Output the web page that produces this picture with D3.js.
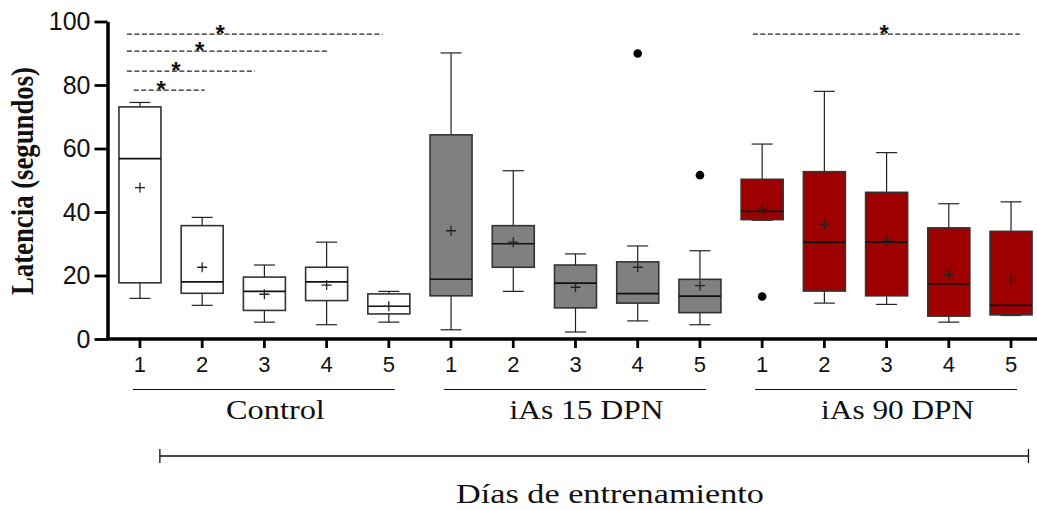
<!DOCTYPE html>
<meta charset="utf-8">
<head>
    <script src="https://cdn.jsdelivr.net/npm/d3@7"></script>
    <style>
        body { margin: 0; background: #fff; }
        .axis text { font-family: "Liberation Sans", Arial, sans-serif; fill: #111; }
        .serif { font-family: "Liberation Serif", "Times New Roman", Times, serif; fill: #111; }
        .star { font-family: "Liberation Sans", Arial, sans-serif; font-weight: bold; fill: #111; }
    </style>
    <title>Latencia</title>
</head>
<body>
<div id="chart"></div>
<script>
    // groups and days
    var groups = ["Control", "iAs 15 DPN", "iAs 90 DPN"];
    var days = ["1", "2", "3", "4", "5"];
    var groupColors = ["#ffffff", "#808080", "#9e0000"];

    // box stats, 15 boxes in group order (Control 1-5, iAs15 1-5, iAs90 1-5)
    var whiskerLow  = [12.8, 10.6, 5.3, 4.5, 5.3,   2.9, 15.0, 2.2, 5.7, 4.5,   37.4, 11.3, 10.9, 5.3, 7.4];
    var q1          = [17.7, 14.4, 9.0, 12.1, 7.9,  13.6, 22.6, 9.8, 11.3, 8.3, 37.6, 15.1, 13.6, 7.2, 7.6];
    var median      = [56.8, 18.0, 15.0, 18.0, 10.3, 18.8, 30.0, 17.6, 14.3, 13.5, 40.2, 30.5, 30.5, 17.3, 10.6];
    var q3          = [73.1, 35.7, 19.5, 22.6, 14.2, 64.3, 35.7, 23.3, 24.3, 18.8, 50.3, 52.7, 46.2, 35.0, 33.9];
    var whiskerHigh = [74.5, 38.3, 23.3, 30.5, 15.0, 90.1, 53.0, 26.8, 29.3, 27.8, 61.4, 78.0, 58.7, 42.6, 43.2];
    var mean        = [47.7, 22.6, 14.1, 17.0, 10.3, 34.1, 30.5, 16.3, 22.6, 16.8, 40.8, 36.2, 31.2, 20.3, 18.8];

    // outliers: box index, value
    var outlierBox = [8, 9, 10];
    var outlierVal = [89.9, 51.6, 13.4];

    // significance bars (box index units) and level in seconds
    var sigStart = [-0.21, -0.21, -0.21, -0.1, 9.85];
    var sigEnd   = [3.9, 3.04, 1.85, 1.04, 14.14];
    var sigLevel = [96.0, 90.7, 84.4, 78.4, 96.0];
    var sigStar  = [1.29, 0.96, 0.58, 0.34, 11.96];

    var yTicks = [0, 20, 40, 60, 80, 100];

    var w = 1037, h = 510;

    var svg = d3.select("#chart").append("svg")
        .attr("width", w)
        .attr("height", h);

    var keys = [];
    groups.forEach((g, gi) => days.forEach(d => keys.push(gi + "|" + d)));

    var x = d3.scaleBand()
        .domain(keys)
        .range([109, 1042])
        .paddingInner(0.325)
        .paddingOuter(0.16);

    var y = d3.scaleLinear().domain([0, 100]).range([339, 21.5]);

    var bw = x.bandwidth();
    // center of box i (allows fractional i)
    function xi(i) { return x(keys[0]) + bw / 2 + i * x.step(); }

    var boxes = keys.map((k, i) => ({
        key: k, group: +k.split("|")[0],
        lo: whiskerLow[i], q1: q1[i], med: median[i], q3: q3[i], hi: whiskerHigh[i], mean: mean[i]
    }));

    // significance bars
    var sig = svg.append("g");
    sigLevel.forEach((lv, i) => {
        sig.append("line")
            .attr("x1", xi(sigStart[i])).attr("x2", xi(sigEnd[i]))
            .attr("y1", y(lv)).attr("y2", y(lv))
            .attr("stroke", "#222").attr("stroke-width", 1.3)
            .attr("stroke-dasharray", "5,2.5");
        sig.append("text")
            .attr("class", "star")
            .attr("x", xi(sigStar[i])).attr("y", y(lv) + 8)
            .attr("text-anchor", "middle")
            .attr("font-size", 24)
            .text("*");
    });

    // boxes
    var bx = svg.append("g").selectAll("g").data(boxes).enter().append("g")
        .attr("transform", d => "translate(" + x(d.key) + ",0)");

    bx.append("line")
        .attr("x1", bw / 2).attr("x2", bw / 2)
        .attr("y1", d => y(d.hi)).attr("y2", d => y(d.q3))
        .attr("stroke", "#222").attr("stroke-width", 1.2);
    bx.append("line")
        .attr("x1", bw / 2).attr("x2", bw / 2)
        .attr("y1", d => y(d.q1)).attr("y2", d => y(d.lo))
        .attr("stroke", "#222").attr("stroke-width", 1.2);
    bx.selectAll(".cap").data(d => [d.hi, d.lo]).enter().append("line")
        .attr("x1", bw / 4).attr("x2", bw * 3 / 4)
        .attr("y1", v => y(v)).attr("y2", v => y(v))
        .attr("stroke", "#222").attr("stroke-width", 1.2);

    bx.append("rect")
        .attr("x", 0).attr("width", bw)
        .attr("y", d => y(d.q3))
        .attr("height", d => y(d.q1) - y(d.q3))
        .attr("fill", d => groupColors[d.group])
        .attr("stroke", "#333").attr("stroke-width", 1.6);

    bx.append("line")
        .attr("x1", 0).attr("x2", bw)
        .attr("y1", d => y(d.med)).attr("y2", d => y(d.med))
        .attr("stroke", "#111").attr("stroke-width", 1.6);

    // mean markers (+)
    bx.append("path")
        .attr("d", d => "M" + (bw / 2 - 5) + "," + y(d.mean) + "h10M" + (bw / 2) + "," + (y(d.mean) - 5) + "v10")
        .attr("stroke", "#222").attr("stroke-width", 1.3).attr("fill", "none");

    // outliers
    svg.append("g").selectAll("circle").data(outlierBox).enter().append("circle")
        .attr("cx", b => xi(b))
        .attr("cy", (b, i) => y(outlierVal[i]))
        .attr("r", 4.3)
        .attr("fill", "#000");

    // y axis
    var yAxis = d3.axisLeft(y).tickValues(yTicks).tickSize(13).tickSizeOuter(0).tickPadding(4);
    var ga = svg.append("g").attr("class", "axis").attr("transform", "translate(107.5,0)").call(yAxis);
    ga.select(".domain").attr("stroke", "#000").attr("stroke-width", 3.5);
    ga.selectAll(".tick line").attr("stroke", "#000").attr("stroke-width", 2.8);
    ga.selectAll(".tick text").attr("font-size", 25);

    // x axis
    var xAxis = d3.axisBottom(x).tickSize(9).tickSizeOuter(0).tickPadding(8.5)
        .tickFormat(k => k.split("|")[1]);
    var gx = svg.append("g").attr("class", "axis").attr("transform", "translate(0,339)").call(xAxis);
    gx.select(".domain").remove();
    gx.selectAll(".tick line").attr("stroke", "#000").attr("stroke-width", 2.8);
    gx.selectAll(".tick text").attr("font-size", 22);
    gx.append("line")
        .attr("x1", 106).attr("x2", w)
        .attr("y1", 0).attr("y2", 0)
        .attr("stroke", "#000").attr("stroke-width", 3.5);

    // y label
    svg.append("text")
        .attr("class", "serif")
        .attr("transform", "translate(33,181) rotate(-90)")
        .attr("text-anchor", "middle")
        .attr("font-size", 31)
        .attr("font-weight", "bold")
        .attr("textLength", 228)
        .attr("lengthAdjust", "spacingAndGlyphs")
        .text("Latencia (segundos)");

    // group underlines and labels
    var labelWidth = [99, 154, 153];
    groups.forEach((g, gi) => {
        var a = xi(gi * 5) - 7, b = xi(gi * 5 + 4) + 6;
        svg.append("line")
            .attr("x1", a).attr("x2", b)
            .attr("y1", 389.5).attr("y2", 389.5)
            .attr("stroke", "#111").attr("stroke-width", 1.2);
        svg.append("text")
            .attr("class", "serif")
            .attr("x", xi(gi * 5 + 2) + 11).attr("y", 419)
            .attr("text-anchor", "middle")
            .attr("font-size", 27)
            .attr("textLength", labelWidth[gi])
            .attr("lengthAdjust", "spacingAndGlyphs")
            .text(g);
    });

    // bracket for training days
    var bl = xi(0.32), br = xi(14.28);
    var brG = svg.append("g").attr("stroke", "#111").attr("stroke-width", 1.3);
    brG.append("line").attr("x1", bl).attr("x2", br).attr("y1", 456).attr("y2", 456);
    brG.append("line").attr("x1", bl).attr("x2", bl).attr("y1", 449).attr("y2", 463);
    brG.append("line").attr("x1", br).attr("x2", br).attr("y1", 449).attr("y2", 463);

    svg.append("text")
        .attr("class", "serif")
        .attr("x", 610).attr("y", 503)
        .attr("text-anchor", "middle")
        .attr("font-size", 27)
        .attr("textLength", 308)
        .attr("lengthAdjust", "spacingAndGlyphs")
        .text("Días de entrenamiento");
</script>
</body>
</html>
